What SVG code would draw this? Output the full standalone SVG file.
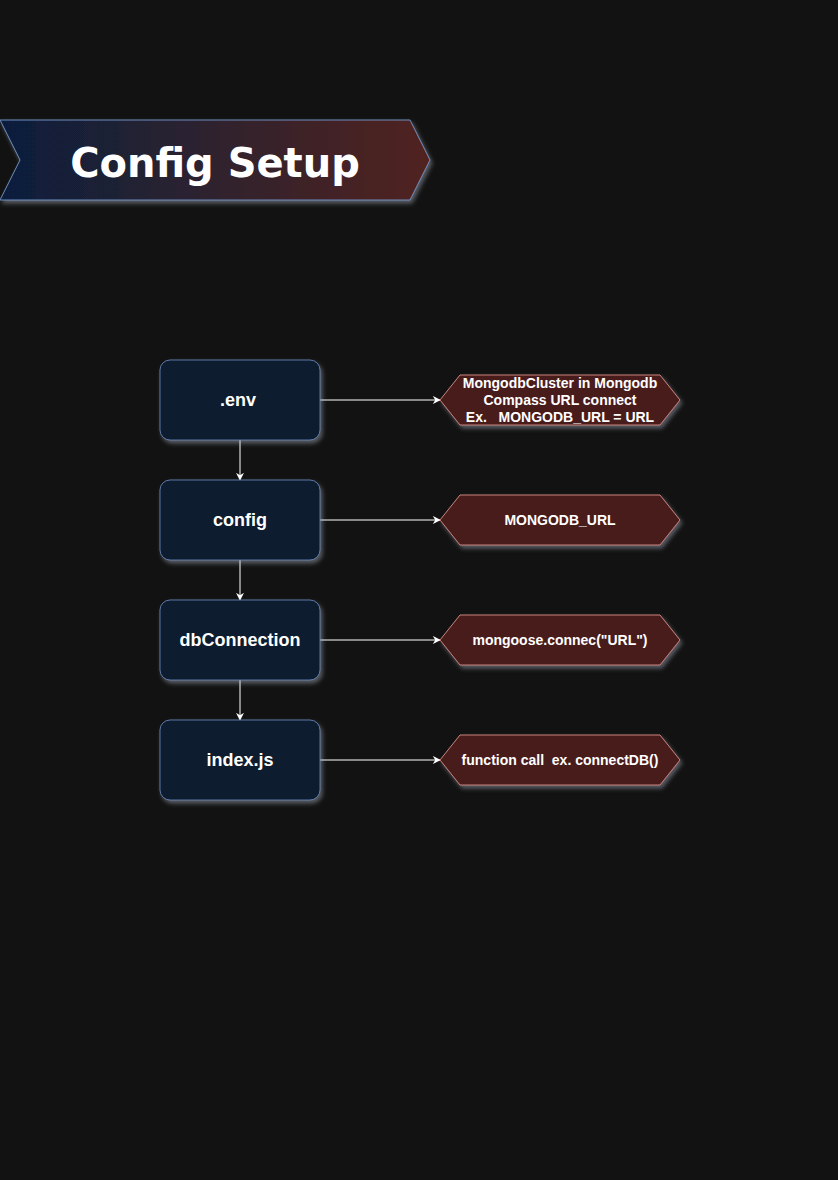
<svg xmlns="http://www.w3.org/2000/svg" width="838" height="1180" viewBox="0 0 838 1180">
<defs>
<linearGradient id="tg" x1="0" y1="0" x2="1" y2="0">
<stop offset="0" stop-color="#0c1f3d"/>
<stop offset="1" stop-color="#52221f"/>
</linearGradient>
<filter id="sh" x="-20%" y="-20%" width="140%" height="150%">
<feGaussianBlur in="SourceAlpha" stdDeviation="2"/>
<feOffset dx="2" dy="3" result="b"/>
<feFlood flood-color="#b0b8c8" flood-opacity="0.45"/>
<feComposite in2="b" operator="in"/>
<feMerge><feMergeNode/><feMergeNode in="SourceGraphic"/></feMerge>
</filter>
<marker id="ah" viewBox="0 0 10 10" refX="9" refY="5" markerWidth="8" markerHeight="8" orient="auto" markerUnits="userSpaceOnUse">
<path d="M0,0 L10,5 L0,10 L3,5 Z" fill="#ffffff"/>
</marker>
</defs>
<style>
.box{fill:#0b1a2f;stroke:#5d79a6;stroke-width:1}
.hex{fill:#4a1f1f;stroke:#c9807a;stroke-width:1}
.bt{font-family:"Liberation Sans",Arial,sans-serif;font-size:18px;font-weight:bold;fill:#ffffff;text-anchor:middle}
.ht{font-family:"Liberation Sans",Arial,sans-serif;font-size:14px;font-weight:bold;fill:#ffffff;text-anchor:middle}
.ln{stroke:#ffffff;stroke-width:1;fill:none;marker-end:url(#ah)}
</style>
<rect width="838" height="1180" fill="#121212"/>
<g id="title">
<path d="M0,120 L410,120 L430,160 L410,200 L0,200 L20,160 Z" fill="url(#tg)" stroke="#6c8ebf" stroke-width="1" filter="url(#sh)"/>
<text x="215" y="177" font-family="DejaVu Sans,Verdana,sans-serif" font-size="40" font-weight="bold" fill="#ffffff" text-anchor="middle">Config Setup</text>
</g>
<g id="connectors">
<line class="ln" x1="240" y1="440" x2="240" y2="480"/>
<line class="ln" x1="240" y1="560" x2="240" y2="600"/>
<line class="ln" x1="240" y1="680" x2="240" y2="720"/>
<line class="ln" x1="320" y1="400" x2="440" y2="400"/>
<line class="ln" x1="320" y1="520" x2="440" y2="520"/>
<line class="ln" x1="320" y1="640" x2="440" y2="640"/>
<line class="ln" x1="320" y1="760" x2="440" y2="760"/>
</g>
<g id="env">
<rect class="box" x="160" y="360" width="160" height="80" rx="10" filter="url(#sh)"/>
<text class="bt" x="238" y="406">.env</text>
</g>
<g id="config">
<rect class="box" x="160" y="480" width="160" height="80" rx="10" filter="url(#sh)"/>
<text class="bt" x="240" y="526">config</text>
</g>
<g id="dbConnection">
<rect class="box" x="160" y="600" width="160" height="80" rx="10" filter="url(#sh)"/>
<text class="bt" x="240" y="646">dbConnection</text>
</g>
<g id="index">
<rect class="box" x="160" y="720" width="160" height="80" rx="10" filter="url(#sh)"/>
<text class="bt" x="240" y="766">index.js</text>
</g>
<g id="h1">
<path class="hex" d="M460,375 L660,375 L680,400 L660,425 L460,425 L440,400 Z" filter="url(#sh)"/>
<text class="ht" x="560" y="388">MongodbCluster in Mongodb</text>
<text class="ht" x="560" y="405">Compass URL connect</text>
<text class="ht" x="560" y="422" xml:space="preserve">Ex.   MONGODB_URL = URL</text>
</g>
<g id="h2">
<path class="hex" d="M460,495 L660,495 L680,520 L660,545 L460,545 L440,520 Z" filter="url(#sh)"/>
<text class="ht" x="560" y="525">MONGODB_URL</text>
</g>
<g id="h3">
<path class="hex" d="M460,615 L660,615 L680,640 L660,665 L460,665 L440,640 Z" filter="url(#sh)"/>
<text class="ht" x="560" y="645">mongoose.connec("URL")</text>
</g>
<g id="h4">
<path class="hex" d="M460,735 L660,735 L680,760 L660,785 L460,785 L440,760 Z" filter="url(#sh)"/>
<text class="ht" x="560" y="765" xml:space="preserve">function call  ex. connectDB()</text>
</g>
</svg>
